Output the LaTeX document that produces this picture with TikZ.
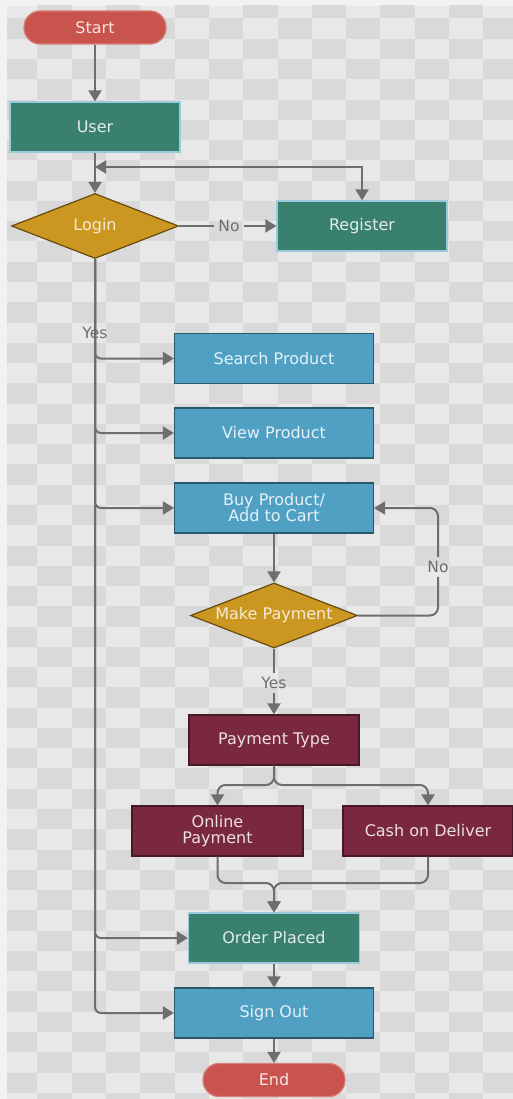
\documentclass[tikz,border=0pt]{standalone}
\usepackage{fontspec}
\newfontfamily\flowfont{DejaVu Sans}
\usepackage{tikz}
\usetikzlibrary{shapes.geometric, arrows.meta, positioning}
\usepackage{xcolor}

\definecolor{termred}{RGB}{201,84,77}
\definecolor{actteal}{RGB}{58,128,110}
\definecolor{decgold}{RGB}{203,151,33}
\definecolor{stepblue}{RGB}{80,160,196}
\definecolor{paymaroon}{RGB}{122,40,64}
\definecolor{linegray}{RGB}{110,110,110}
\definecolor{bgmargin}{RGB}{242,242,242}
\definecolor{bglight}{RGB}{232,232,232}
\definecolor{bgdark}{RGB}{217,217,217}

\begin{document}
\begin{tikzpicture}[x=1pt, y=-1pt,
    basebox/.style = {rectangle, line width=1.2pt, inner sep=0pt, align=center, font=\flowfont\fontsize{16}{16}\selectfont},
    termbox/.style = {basebox, fill=termred, draw=termred!75!white, text=white!85!termred, rounded corners=16pt, minimum width=142pt, minimum height=33pt},
    tealbox/.style = {basebox, fill=actteal, draw=cyan!50!actteal!50!white, text=white!85!actteal, minimum width=170pt, minimum height=50pt},
    bluebox/.style = {basebox, fill=stepblue, draw=stepblue!55!black, text=white!85!stepblue, minimum width=199pt, minimum height=50pt},
    paybox/.style = {basebox, fill=paymaroon, draw=paymaroon!60!black, text=white!85!paymaroon, minimum width=170pt, minimum height=50pt},
    decbox/.style = {basebox, diamond, aspect=2.6, fill=decgold, draw=decgold!50!black, text=white!80!decgold, minimum width=167pt, minimum height=65pt},
    lbl/.style = {font=\flowfont\fontsize{15.5}{16}\selectfont, text=linegray, inner sep=4pt},
    wire/.style = {draw=linegray, line width=2pt},
    conn/.style = {wire, ->, >={Triangle[length=11pt, width=13pt]}}
]
\useasboundingbox (0,0) rectangle (513,1099);

% Background
\fill[bgmargin] (0,0) rectangle (513,1099);
\fill[bglight] (7,6) rectangle (513,1099);
\begin{scope}
\clip (7,6) rectangle (513,1099);
\foreach \i in {-2,...,13} {
  \foreach \j in {-1,...,53} {
    \pgfmathtruncatemacro\cellpar{mod(\i+\j+10,2)}
    \ifnum\cellpar=0
      \fill[bgdark] ({71.7+34.3*\i},{18.5+20.27*\j}) rectangle ++(34.3,20.27);
    \fi
  }
}
\end{scope}

% Nodes
\node (n_start) [termbox] at (95,27.5) {Start};
\node (n_user) [tealbox] at (95,127) {User};
\node (n_login) [decbox] at (95,226) {Login};
\node (n_register) [tealbox] at (362,226) {Register};
\node (n_search) [bluebox] at (274,358.5) {Search Product};
\node (n_view) [bluebox] at (274,433) {View Product};
\node (n_buy) [bluebox] at (274,508) {Buy Product/\\Add to Cart};
\node (n_pay) [decbox] at (274,615.5) {Make Payment};
\node (n_type) [paybox] at (274,740) {Payment Type};
\node (n_online) [paybox, minimum width=171pt] at (217.5,831) {Online\\Payment};
\node (n_cod) [paybox] at (428,831) {Cash on Deliver};
\node (n_order) [tealbox, minimum width=171pt] at (274,938) {Order Placed};
\node (n_signout) [bluebox] at (274,1013) {Sign Out};
\node (n_end) [termbox] at (274,1080) {End};

% Labels and joints
\node (l_yes1) [lbl] at (95,333) {Yes};
\node (l_no1) [lbl] at (229,226) {No};
\node (l_no2) [lbl] at (438,567) {No};
\node (l_yes2) [lbl] at (274,683) {Yes};
\coordinate (c_back) at (95,167);
\coordinate (c_split) at (274,785);
\coordinate (c_merge) at (274,883);

% Connections
\draw [conn] (n_start) -- (n_user);
\draw [conn] (n_user) -- (n_login);
\draw [conn, <->] (c_back) -| (n_register.north);
\draw [wire] (n_login.east) -- (l_no1.west);
\draw [conn] (l_no1.east) -- (n_register.west);
\foreach \tgt in {n_search, n_view, n_buy, n_order, n_signout}
  \draw [conn, rounded corners=6pt] (n_login.south) |- (\tgt.west);
\draw [conn] (n_buy) -- (n_pay);
\draw [wire, rounded corners=8pt] (n_pay.east) -| (l_no2.south);
\draw [conn, rounded corners=8pt] (l_no2.north) |- (n_buy.east);
\draw [wire] (n_pay.south) -- (l_yes2.north);
\draw [conn] (l_yes2.south) -- (n_type.north);
\draw [conn, rounded corners=8pt] (n_type.south) -- (c_split) -| (n_online.north);
\draw [conn, rounded corners=8pt] (n_type.south) -- (c_split) -| (n_cod.north);
\draw [conn, rounded corners=8pt] (n_online.south) |- (c_merge) -- (n_order.north);
\draw [conn, rounded corners=8pt] (n_cod.south) |- (c_merge) -- (n_order.north);
\draw [conn] (n_order) -- (n_signout);
\draw [conn] (n_signout) -- (n_end);

\end{tikzpicture}
\end{document}
